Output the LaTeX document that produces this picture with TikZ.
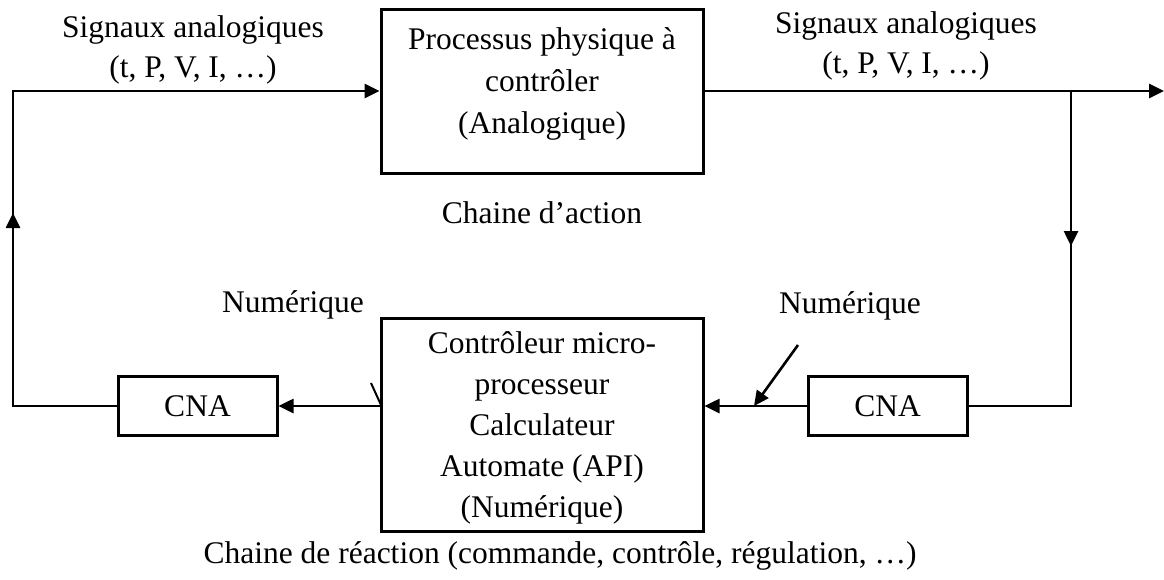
\documentclass[tikz,border=0pt]{standalone}
\usepackage{fontspec}
\setmainfont{Liberation Serif}
\usetikzlibrary{arrows.meta}
\begin{document}
\begin{tikzpicture}[x=1pt,y=-1pt,
  line width=2.6pt,
  txt/.style={font=\fontsize{31.5}{42}\selectfont, align=center, inner sep=0pt},
  blk/.style={draw, line width=3pt, inner sep=0pt},
  arr/.style={-{Triangle[length=15pt,width=14pt]}}]
\useasboundingbox (0,0) rectangle (1164,579);
% boxes
\node[blk, minimum width=322pt, minimum height=164pt] (proc) at (542,91) {};
\node[txt] (proct) at (542,84) {Processus physique à\\contrôler\\(Analogique)};
\node[blk, minimum width=322pt, minimum height=213pt] (ctrl) at (542,424.5) {};
\node[txt, font=\fontsize{31.5}{41}\selectfont] (ctrlt) at (542,428) {Contrôleur micro-\\processeur\\Calculateur\\Automate (API)\\(Numérique)};
\node[blk, txt, draw, line width=3pt, minimum width=159pt, minimum height=59pt] (cnaL) at (197.5,406) {CNA};
\node[blk, txt, draw, line width=3pt, minimum width=159pt, minimum height=59pt] (cnaR) at (887.5,406) {CNA};
% coordinates
\coordinate (tl) at (13,91);
\coordinate (bl) at (13,406);
\coordinate (out) at (1164,91);
\coordinate (br) at (1071,91);
\coordinate (brb) at (1071,406);
\coordinate (upa) at (13,240);
\coordinate (upb) at (13,213);
\coordinate (dna) at (1071,225);
\coordinate (dnb) at (1071,246);
\coordinate (tickA) at (371,383);
\coordinate (tickB) at (381,405);
\coordinate (numA) at (798,345);
\coordinate (numB) at (754,406);
% connectors
\draw[arr] (cnaL.west) -- (bl) -- (tl) -- (proc.west);
\draw[arr] (upa) -- (upb);
\draw[arr] (proc.east) -- (out);
\draw (br) -- (brb) -- (cnaR.east);
\draw[arr] (dna) -- (dnb);
\draw[arr] (cnaR.west) -- (ctrl.east |- cnaR.west);
\draw[arr] (ctrl.west |- cnaL.east) -- (cnaL.east);
\draw[line width=2pt] (tickA) -- (tickB);
\draw[arr] (numA) -- (numB);
% labels
\node[txt, font=\fontsize{31.5}{40}\selectfont] (sigL) at (193,50) {Signaux analogiques\\(t, P, V, I, …)};
\node[txt, font=\fontsize{31.5}{40}\selectfont] (sigR) at (906,46) {Signaux analogiques\\(t, P, V, I, …)};
\node[txt] (act) at (542,213) {Chaine d’action};
\node[txt] (numL) at (293,305) {Numérique};
\node[txt] (numR) at (850,306) {Numérique};
\node[txt] (reac) at (560,556) {Chaine de réaction (commande, contrôle, régulation, …)};
\end{tikzpicture}
\end{document}
